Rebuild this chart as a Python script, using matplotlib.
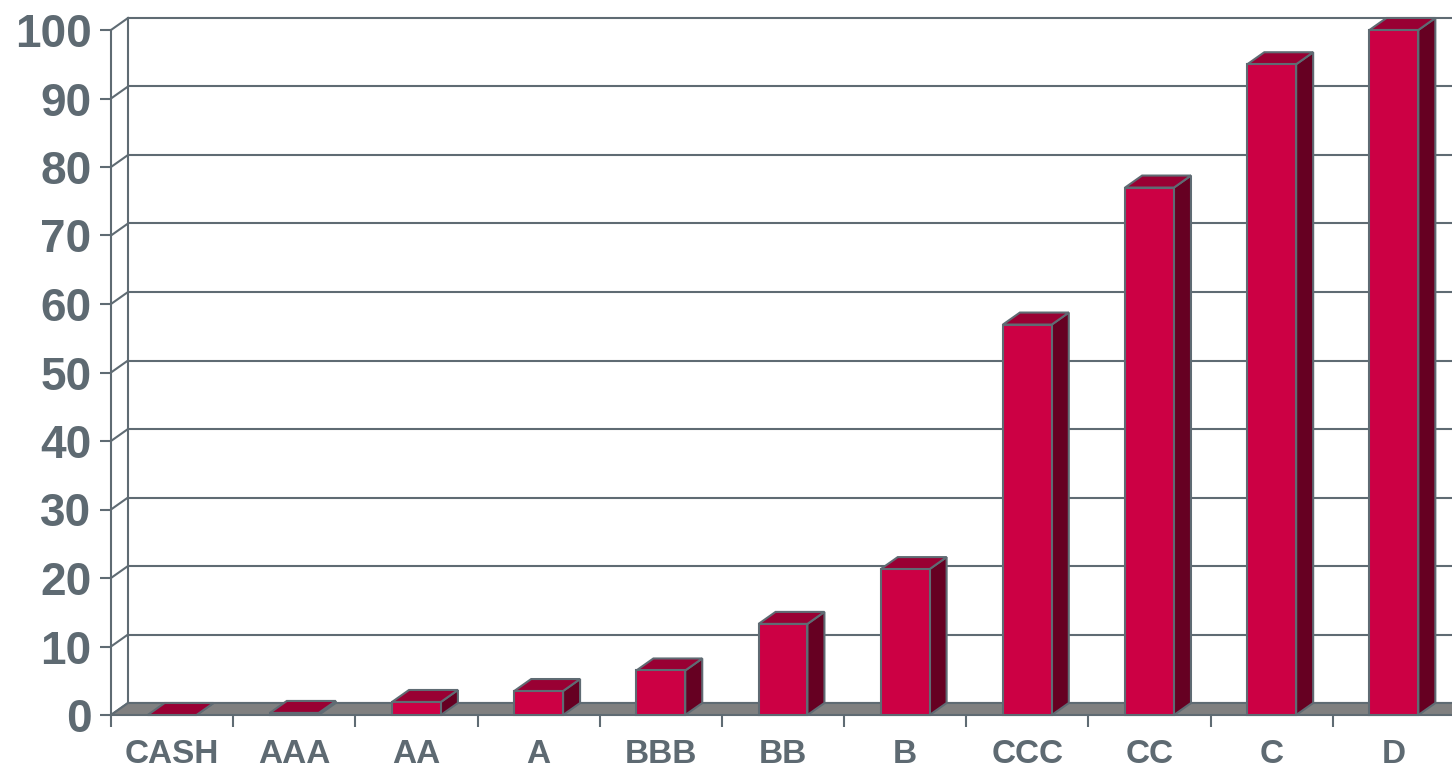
import matplotlib
matplotlib.use("Agg")
import matplotlib.pyplot as plt
from matplotlib.patches import Polygon, Rectangle
import numpy as np

categories = ["CASH", "AAA", "AA", "A", "BBB", "BB", "B", "CCC", "CC", "C", "D"]
values = [0, 0.3, 1.9, 3.5, 6.5, 13.3, 21.3, 57, 77, 95, 100]
y_ticks = [0, 10, 20, 30, 40, 50, 60, 70, 80, 90, 100]

TEXT = "#5E6A72"
LINE = "#5F6B73"
FRONT = "#CC0044"
TOP = "#990033"
SIDE = "#660022"
FLOOR = "#808080"

plt.rcParams['font.family'] = ['Liberation Sans', 'DejaVu Sans']

W, H = 1452, 769
fig = plt.figure(figsize=(W / 100, H / 100), dpi=100)
left_px, right_px, base_px, top_px = 111, 1455, 715, 30
ax = fig.add_axes([left_px / W, (H - base_px) / H, (right_px - left_px) / W, (base_px - top_px) / H])
n = len(categories)
ax.set_xlim(-0.5, n - 0.5)
ax.set_ylim(0, 100)

# depth offset in data units (17 px right, 12 px up)
px_x = (n) / (right_px - left_px)
px_y = 100 / (base_px - top_px)
dx = 17 * px_x
dy = 12 * px_y
bw = 0.4
xl = -0.5
xr = n - 0.5 + 1.0

lw = 1.5
# back wall gridlines + left wall diagonals
for v in y_ticks:
    ax.plot([xl + dx, xr + dx], [v + dy, v + dy], color=LINE, lw=lw, zorder=1, clip_on=False, solid_capstyle='butt')
    ax.plot([xl, xl + dx], [v, v + dy], color=LINE, lw=lw, zorder=1, clip_on=False)
ax.plot([xl + dx, xl + dx], [dy, 100 + dy], color=LINE, lw=lw, zorder=1, clip_on=False)

# floor
floor = Polygon([(xl, 0), (xr, 0), (xr + dx, dy), (xl + dx, dy)], closed=True,
                facecolor=FLOOR, edgecolor=LINE, lw=lw, zorder=2, clip_on=False)
ax.add_patch(floor)

# bars
x = np.arange(n)
for i, v in enumerate(values):
    x0 = x[i] - bw / 2
    x1 = x[i] + bw / 2
    z = 3 + i
    front = Rectangle((x0, 0), bw, v, facecolor=FRONT, edgecolor=LINE, lw=lw, zorder=z, clip_on=False)
    top = Polygon([(x0, v), (x1, v), (x1 + dx, v + dy), (x0 + dx, v + dy)], closed=True,
                  facecolor=TOP, edgecolor=LINE, lw=lw, zorder=z, clip_on=False, joinstyle='miter')
    side = Polygon([(x1, 0), (x1 + dx, dy), (x1 + dx, v + dy), (x1, v)], closed=True,
                   facecolor=SIDE, edgecolor=LINE, lw=lw, zorder=z, clip_on=False, joinstyle='miter')
    ax.add_patch(side)
    ax.add_patch(top)
    if v > 0:
        ax.add_patch(front)

# axes styling
for s in ["top", "right", "bottom"]:
    ax.spines[s].set_visible(False)
ax.spines["left"].set_color(LINE)
ax.spines["left"].set_linewidth(lw)
ax.spines["left"].set_zorder(1)

ax.set_yticks(y_ticks)
ax.set_yticklabels([str(t) for t in y_ticks])
ax.tick_params(axis='y', direction='out', length=8, width=lw, color=LINE, pad=6,
               labelsize=33, labelcolor=TEXT)
for lab in ax.get_yticklabels():
    lab.set_fontweight('bold')

ax.set_xticks(x)
ax.set_xticklabels(categories)
ax.set_xticks(np.arange(-0.5, n, 1.0), minor=True)
ax.tick_params(axis='x', which='major', length=0, pad=17, labelsize=24, labelcolor=TEXT)
ax.tick_params(axis='x', which='minor', direction='out', length=8.5, width=lw, color=LINE)
for lab in ax.get_xticklabels():
    lab.set_fontweight('bold')

ax.set_facecolor('none')
fig.savefig("out.png", dpi=100, facecolor='white')
